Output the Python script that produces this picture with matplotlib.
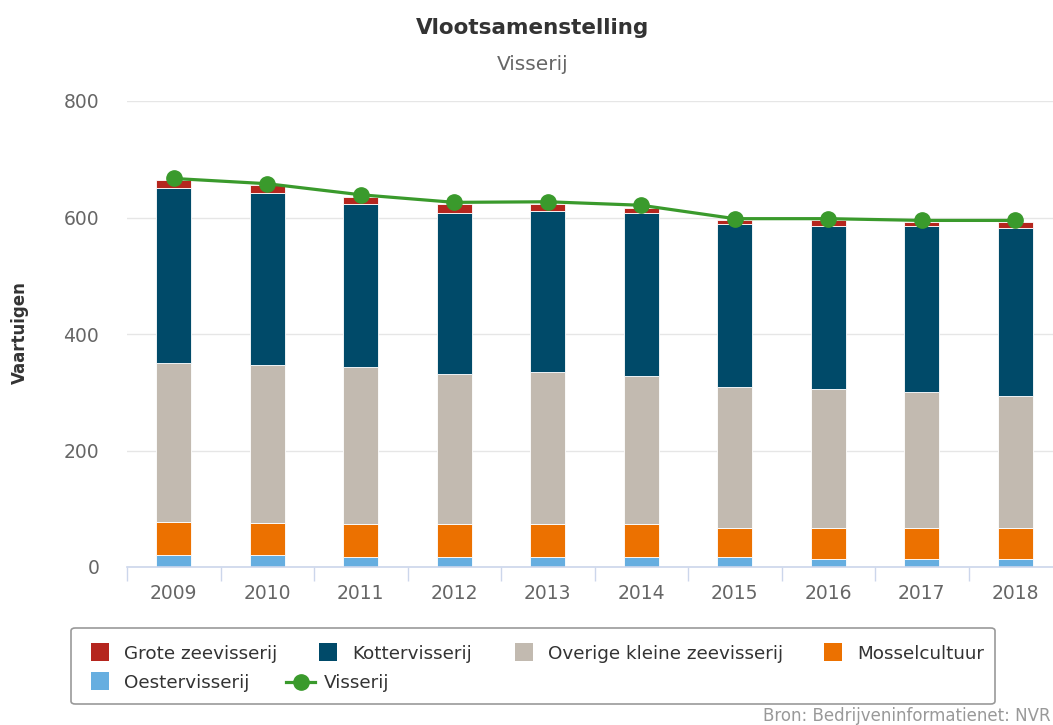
import matplotlib.pyplot as plt
import numpy as np
from matplotlib.patches import FancyBboxPatch, Rectangle
from matplotlib.lines import Line2D

plt.rcParams['font.family'] = ['DejaVu Sans']

# Vlootsamenstelling visserij, aantal vaartuigen per jaar
jaren = ['2009', '2010', '2011', '2012', '2013', '2014', '2015', '2016', '2017', '2018']
oester = [20, 20, 17, 17, 17, 17, 17, 13, 13, 13]
mossel = [57, 56, 56, 56, 56, 56, 50, 54, 54, 54]
overige = [273, 271, 270, 258, 261, 255, 242, 239, 233, 226]
kotter = [301, 295, 281, 277, 277, 280, 280, 279, 285, 289]
grote = [13, 13, 11, 16, 13, 9, 6, 10, 7, 10]
visserij = [667, 658, 639, 626, 627, 621, 598, 598, 595, 595]

kleuren = {'Grote zeevisserij': '#b5261e', 'Kottervisserij': '#004a69',
           'Overige kleine zeevisserij': '#c2bab0', 'Mosselcultuur': '#ec7100',
           'Oestervisserij': '#66aee0', 'Visserij': '#3a9a2c'}

W, H = 1053, 725
fig = plt.figure(figsize=(W / 100, H / 100), dpi=100)
ax = fig.add_axes([127 / W, 158 / H, 935 / W, 466 / H])

x = np.arange(len(jaren))
breedte = 0.37
onder = np.zeros(len(jaren))
# stapel van onder naar boven
for naam, waarden in [('Oestervisserij', oester), ('Mosselcultuur', mossel),
                      ('Overige kleine zeevisserij', overige),
                      ('Kottervisserij', kotter), ('Grote zeevisserij', grote)]:
    ax.bar(x, waarden, breedte, bottom=onder, color=kleuren[naam],
           edgecolor='white', linewidth=0.6, zorder=2)
    onder += np.array(waarden)

ax.plot(x, visserij, color=kleuren['Visserij'], lw=2.3, marker='o',
        markersize=11, zorder=3)

ax.set_xlim(-0.5, 9.5)
ax.set_ylim(0, 800)
ax.set_yticks([0, 200, 400, 600, 800])
ax.yaxis.grid(True, color='#e6e6e6', lw=1, zorder=0)
ax.set_axisbelow(True)
for s in ['top', 'right', 'left']:
    ax.spines[s].set_visible(False)
ax.spines['bottom'].set_color('#ccd6eb')
ax.spines['bottom'].set_linewidth(1.2)

ax.set_xticks(x)
ax.set_xticklabels(jaren)
ax.set_xticks(np.arange(-0.5, 10, 1), minor=True)
ax.tick_params(axis='x', which='major', length=0, pad=12, labelsize=13.5, labelcolor='#666666')
ax.tick_params(axis='x', which='minor', length=10, width=1, color='#ccd6eb')
ax.tick_params(axis='y', length=0, pad=20, labelsize=13.5, labelcolor='#666666')

fig.text(20 / W, 1 - 333 / H, 'Vaartuigen', rotation=90, fontsize=12,
         fontweight='bold', color='#333333', ha='center', va='center')

fig.text(533 / W, 1 - 28 / H, 'Vlootsamenstelling', fontsize=15.5,
         fontweight='bold', color='#333333', ha='center', va='center')
fig.text(533 / W, 1 - 64 / H, 'Visserij', fontsize=14.5,
         color='#666666', ha='center', va='center')

# legenda met doorlopende indeling
kader = FancyBboxPatch((71 / W, 1 - 704 / H), 924 / W, 76 / H,
                       boxstyle='round,pad=0,rounding_size=0.004',
                       transform=fig.transFigure, facecolor='white',
                       edgecolor='#999999', lw=1.2)
fig.patches.append(kader)

items = [('Grote zeevisserij', 91, 652), ('Kottervisserij', 319, 652),
         ('Overige kleine zeevisserij', 515, 652), ('Mosselcultuur', 824, 652),
         ('Oestervisserij', 91, 681)]
for naam, px, py in items:
    fig.patches.append(Rectangle((px / W, 1 - (py + 9) / H), 18 / W, 18 / H,
                                 transform=fig.transFigure,
                                 facecolor=kleuren[naam], edgecolor='none'))
    fig.text((px + 33) / W, 1 - (py + 2) / H, naam, fontsize=13.2,
             color='#333333', ha='left', va='center')

fig.lines.append(Line2D([286 / W, 315 / W], [1 - 682 / H, 1 - 682 / H],
                        transform=fig.transFigure, color=kleuren['Visserij'],
                        lw=2.3))
fig.lines.append(Line2D([300.5 / W], [1 - 682 / H], transform=fig.transFigure,
                        color=kleuren['Visserij'], marker='o', markersize=11,
                        linestyle='none'))
fig.text(324 / W, 1 - 683 / H, 'Visserij', fontsize=13.2, color='#333333',
         ha='left', va='center')

fig.text(763 / W, 1 - 716 / H, 'Bron: Bedrijveninformatienet: NVR',
         fontsize=12, color='#999999', ha='left', va='center')

fig.savefig('out.png', dpi=100)
